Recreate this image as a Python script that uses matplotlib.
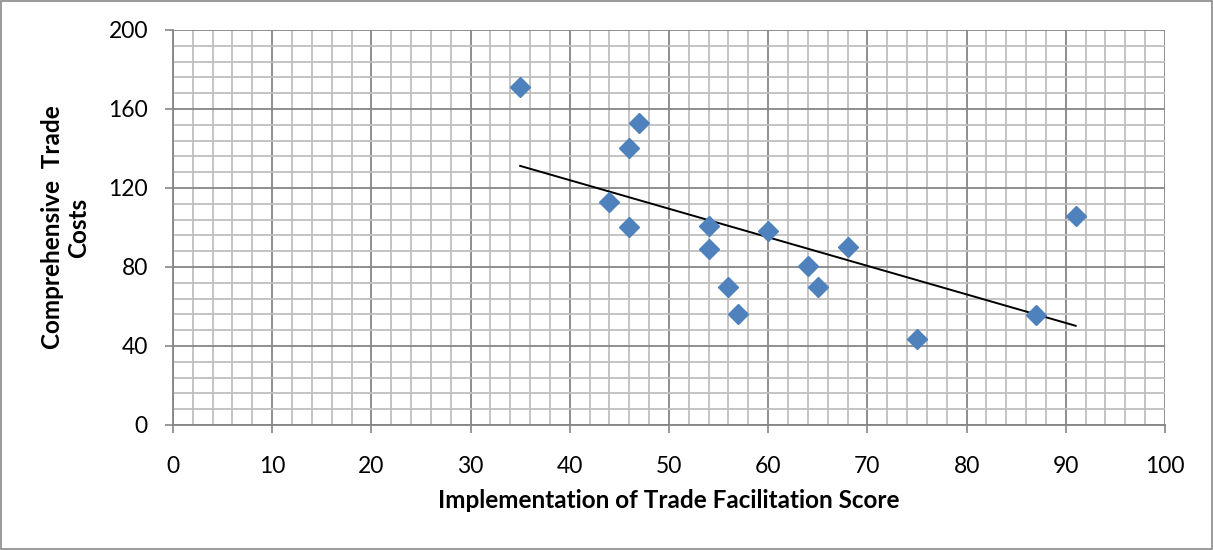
import numpy as np
import matplotlib
matplotlib.use("Agg")
import matplotlib.pyplot as plt
from matplotlib.patches import Rectangle

# scores (x) and comprehensive trade costs (y)
score = [35, 47, 46, 44, 46, 54, 54, 56, 57, 60, 64, 65, 68, 75, 87, 91]
costs = [171, 153, 140, 113, 100, 101, 89, 70, 56, 98, 80.5, 70, 90, 43.5, 55.5, 106]

x_ticks = list(range(0, 101, 10))
y_ticks = list(range(0, 201, 40))

MARKER = "#4F81BD"
MAJOR = "#868686"
MINOR = "#BFBFBF"
INK = "#000000"

plt.rcParams["font.family"] = ["Lato", "DejaVu Sans"]

fig = plt.figure(figsize=(12.13, 5.5), dpi=100)
fig.patches.append(Rectangle((0.001, 0.002), 0.998, 0.996, transform=fig.transFigure,
                             fill=False, edgecolor="#898989", linewidth=1.2))
ax = fig.add_axes([0.1426, 0.2273, 0.8178, 0.7182])

ax.set_xlim(0, 100)
ax.set_ylim(0, 200)
ax.set_xticks(x_ticks)
ax.set_yticks(y_ticks)
ax.set_xticks(np.arange(0, 101, 2), minor=True)
ax.set_yticks(np.arange(0, 201, 8), minor=True)
ax.grid(True, which="minor", color=MINOR, linewidth=1.3)
ax.grid(True, which="major", color=MAJOR, linewidth=1.3)
ax.set_axisbelow(True)
ax.tick_params(which="major", direction="out", length=6, width=1.2, color=MAJOR,
               labelsize=16.5, labelcolor=INK)
ax.tick_params(axis="x", pad=16)
ax.tick_params(axis="y", pad=12)
ax.tick_params(which="minor", length=0)
for s in ("top", "right"):
    ax.spines[s].set_visible(False)
for s in ("left", "bottom"):
    ax.spines[s].set_color(MAJOR)
    ax.spines[s].set_linewidth(1.3)

# linear trend line over the data range
k, b = np.polyfit(score, costs, 1)
xs = np.array([min(score), max(score)])
ax.plot(xs, k * xs + b, color=INK, linewidth=1.4, zorder=3)

ax.plot(score, costs, linestyle="none", marker="D", markersize=10,
        color=MARKER, markeredgecolor=MARKER, zorder=4, clip_on=False)

ax.set_xlabel("Implementation of Trade Facilitation Score", fontsize=17.5,
              fontweight="bold", labelpad=9)
ax.set_ylabel("Comprehensive  Trade\nCosts", fontsize=17.5, fontweight="bold",
              labelpad=13, linespacing=1.15)

fig.savefig("out.png", dpi=100)
